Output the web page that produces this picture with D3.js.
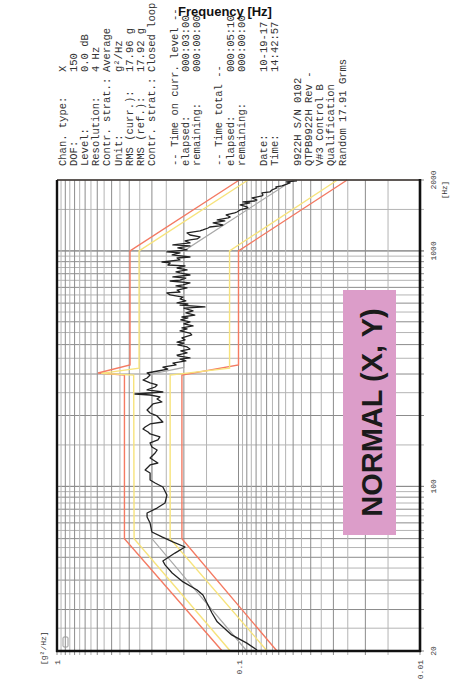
<!DOCTYPE html>
<html><head><meta charset="utf-8">
<script src="https://cdn.jsdelivr.net/npm/d3@7"></script>
<style>body{margin:0;background:#fff}svg{display:block}</style>
</head><body><svg id="c" width="450" height="687"></svg>
<script>
// ---------------- data ----------------
const freqTicks = [20, 100, 1000, 2000];
const psdTicks = [1, 0.1, 0.01];
const freqUnit = "[Hz]";
const psdUnit = "[g\u00b2/Hz]";
const title = "Frequency [Hz]";
const stamp = "NORMAL (X, Y)";

const reference = [[20,0.09],[60,0.3],[300,0.3],[320,0.2],[1000,0.2],[2000,0.05]];
const abortHigh = [[20,0.123],[60,0.425],[297,0.425],[303,0.594],[328,0.396],[1000,0.396],[2000,0.099]];
const alarmHigh = [[20,0.111],[60,0.376],[297,0.378],[302,0.57],[318,0.353],[1000,0.353],[2000,0.0885]];
const alarmLow  = [[20,0.0695],[60,0.238],[297,0.238],[318,0.112],[1000,0.112],[2000,0.0285]];
const abortLow  = [[20,0.0614],[60,0.205],[297,0.205],[328,0.100],[1000,0.100],[2000,0.0252]];

const control = [
[20.2,0.079],[21.6,0.090],[23.4,0.109],[26.6,0.131],[29.0,0.140],[31.3,0.147],[34.6,0.157],[36.3,0.169],[39.3,0.202],[42.9,0.232],[46.4,0.254],[48.2,0.261],[52.1,0.224],[55.3,0.197],[58.1,0.230],[61.0,0.264],[64.0,0.300],[69.9,0.307],[74.1,0.319],[77.1,0.319],[80.9,0.281],[85.0,0.254],[91.9,0.248],[99.4,0.261],[103.4,0.288],[106.4,0.307],[114.0,0.307],[117.4,0.327],[123.3,0.307],[125.7,0.278],[132.0,0.307],[138.6,0.288],
[142.7,0.281],[147.0,0.300],[152.9,0.307],[157.5,0.278],[162.1,0.271],[167.0,0.307],[170.2,0.315],[175.3,0.336],[178.8,0.327],[184.1,0.307],[187.7,0.261],[193.3,0.271],[199.1,0.281],[204.9,0.307],[211.1,0.319],[217.4,0.307],[223.9,0.296],[228.3,0.264],[235.1,0.281],[239.7,0.271],[244.4,0.307],[246.8,0.372],[251.7,0.261],[256.7,0.319],[264.3,0.288],[269.5,0.281],[274.9,0.307],[283.1,0.336],[288.6,0.319],
[297,0.307],[303,0.319],[309,0.278],[315,0.245],[321,0.261],[328,0.221],[334,0.230],[341,0.195],[347,0.210],[351,0.185],[358,0.216],[361,0.218],[369,0.192],[376,0.208],[383,0.185],[391,0.192],[399,0.216],[406,0.200],[410,0.218],[419,0.197],[427,0.205],[440,0.181],[448,0.185],[457,0.210],[466,0.192],[471,0.205],[480,0.178],[490,0.200],[499,0.185],[509,0.208],[519,0.190],[524,0.205],[534,0.174],[545,0.195],[556,0.178],[572,0.200],[578,0.153],[589,0.210],[595,0.190],[601,0.218],[613,0.195],[625,0.210],[637,0.202],[650,0.238],[663,0.248],[669,0.210],[682,0.218],[696,0.192],[710,0.221],[717,0.202],[731,0.185],[745,0.238],[752,0.210],[767,0.195],[775,0.230],[790,0.185],[806,0.210],[814,0.221],[830,0.192],[846,0.218],[863,0.197],[871,0.245],[889,0.238],[897,0.264],[915,0.210],[933,0.218],[942,0.185],[961,0.232],[980,0.210],[990,0.248],[1009,0.192],[1030,0.216],[1050,0.185],[1060,0.230],[1081,0.185],[1103,0.197],[1113,0.185],[1124,0.169],[1146,0.163],[1168,0.185],[1192,0.192],[1215,0.163],[1227,0.157],[1251,0.147],[1263,0.144],[1276,0.127],[1288,0.122],[1314,0.138],[1340,0.119],[1353,0.131],[1380,0.114],[1393,0.111],[1421,0.117],[1449,0.105],[1463,0.102],[1492,0.098],[1522,0.0887],[1537,0.0898],[1567,0.098],[1598,0.0865],[1614,0.0945],[1629,0.0815],[1645,0.0791],[1678,0.0842],[1711,0.0743],[1728,0.0733],[1762,0.0743],[1779,0.0671],[1814,0.0655],[1850,0.0614],[1868,0.0622],[1887,0.0576],[1943,0.0520],[1962,0.0545],[1981,0.0476]
];

const infoLabels = ["Chan. type:","DOF:","Level:","Resolution:","Contr. strat.:","Unit:","RMS (curr.):","RMS (ref.):","Contr. strat.:","",
  "-- Time on curr. level --","elapsed:","remaining:","","-- Time total --","elapsed:","remaining:","","Date:","Time:","",
  "9922H S/N 0102","QTPB9922H Rev -","V#3 Control B","Qualification","Random 17.91 Grms"];
const infoValues = ["X","150","0.0 dB","4 Hz","Average","g\u00b2/Hz","17.96 g","17.92 g","Closed loop","",
  "","000:03:00","000:00:00","","","000:05:10","000:00:00","","10-19-17","14:42:57","",
  "","","","",""];

// ---------------- chart ----------------
const svg = d3.select("#c");
const L = 57, R = 420, T = 180, B = 651;
const y = d3.scaleLog().domain([20, 2000]).range([B, T]);
const x = d3.scaleLog().domain([1, 0.01]).range([L, R]);

// grid
const fGrid = [], pGrid = [];
[10, 100, 1000].forEach(d => { for (let m = 1; m <= 10; m += 0.5) { const v = +(m * d).toFixed(6); if (v >= 20 && v <= 2000) fGrid.push({v, major: Number.isInteger(m)}); } });
[0.01, 0.1].forEach(d => { for (let m = 1; m <= 10; m += 0.5) { pGrid.push({v: +(m * d).toFixed(6), major: Number.isInteger(m)}); } });

const g = svg.append("g");
g.selectAll("line.fg").data(fGrid).join("line")
  .attr("x1", L).attr("x2", R + 4)
  .attr("y1", d => y(d.v)).attr("y2", d => y(d.v))
  .attr("stroke", d => d.major ? "#8c8c8c" : "#b4b4b4").attr("stroke-width", 1);
g.selectAll("line.pg").data(pGrid).join("line")
  .attr("y1", T).attr("y2", B + 4)
  .attr("x1", d => x(d.v)).attr("x2", d => x(d.v))
  .attr("stroke", d => d.major ? "#8c8c8c" : "#b4b4b4").attr("stroke-width", 1);

const line = d3.line().x(d => x(d[1])).y(d => y(d[0]));
const plot = svg.append("g");
plot.append("path").datum(reference).attr("d", line).attr("fill","none").attr("stroke","#a8a8a8").attr("stroke-width",1.2);
[[abortHigh,"#f47a62"],[abortLow,"#f47a62"],[alarmHigh,"#f7e37c"],[alarmLow,"#f7e37c"]].forEach(([dat,c]) => {
  plot.append("path").datum(dat).attr("d", line).attr("fill","none").attr("stroke",c).attr("stroke-width",1.4);
});
plot.append("path").datum(control).attr("d", line).attr("fill","none").attr("stroke","#222").attr("stroke-width",1.3).attr("stroke-linejoin","round");

// frame
svg.append("line").attr("x1",L).attr("x2",R).attr("y1",T).attr("y2",T).attr("stroke","#3d3430").attr("stroke-width",1.6);
svg.append("line").attr("x1",L).attr("x2",L).attr("y1",T).attr("y2",B+1).attr("stroke","#111").attr("stroke-width",2.4);
svg.append("line").attr("x1",R).attr("x2",R).attr("y1",T-1).attr("y2",B+1).attr("stroke","#111").attr("stroke-width",2.6);
svg.append("line").attr("x1",L-1).attr("x2",R+1).attr("y1",B).attr("y2",B).attr("stroke","#111").attr("stroke-width",2.4);
svg.append("rect").attr("x",63).attr("y",637).attr("width",5).attr("height",10).attr("rx",1).attr("fill","none").attr("stroke","#999").attr("stroke-width",1);

// tick labels (rotated)
const mono = "'Liberation Mono','DejaVu Sans Mono',monospace";
svg.selectAll("text.ft").data(freqTicks).join("text")
  .attr("transform", d => `translate(436,${y(d)}) rotate(-90)`)
  .attr("text-anchor","middle").attr("font-family",mono).attr("font-size",8).attr("fill","#333").text(d => d);
svg.append("text").attr("transform",`translate(446.5,190) rotate(-90)`).attr("text-anchor","middle")
  .attr("font-family",mono).attr("font-size",7.5).attr("fill","#333").text(freqUnit);
svg.selectAll("text.pt").data(psdTicks).join("text")
  .attr("transform", d => `translate(${x(d)+3},660) rotate(-90)`)
  .attr("text-anchor","end").attr("font-family",mono).attr("font-size",8).attr("fill","#333").text(d => d);
svg.append("text").attr("transform",`translate(46,665) rotate(-90)`).attr("text-anchor","start")
  .attr("font-family",mono).attr("font-size",8).attr("fill","#333").text(psdUnit);

// info block
const info = svg.append("g").attr("font-family",mono).attr("font-size",10.5).attr("fill","#333");
infoLabels.forEach((lab, i) => {
  const gx = 65.5 + 11.2 * i;
  if (lab) info.append("text").attr("transform",`translate(${gx},166) rotate(-90)`).text(lab);
  if (infoValues[i]) info.append("text").attr("transform",`translate(${gx},72) rotate(-90)`).text(infoValues[i]);
});

// title
svg.append("text").attr("x",225).attr("y",16).attr("text-anchor","middle")
  .attr("font-family","'Liberation Sans',Arial,sans-serif").attr("font-weight","bold").attr("font-size",13).attr("fill","#111").text(title);

// stamp
svg.append("rect").attr("x",343).attr("y",290).attr("width",53).attr("height",245).attr("fill","#dc9dc9");
svg.append("text").attr("transform","translate(382,412.5) rotate(-90)").attr("text-anchor","middle")
  .attr("font-family","'Liberation Sans',Arial,sans-serif").attr("font-weight","bold").attr("font-size",29).attr("fill","#1a1a1a").text(stamp);
</script></body></html>
